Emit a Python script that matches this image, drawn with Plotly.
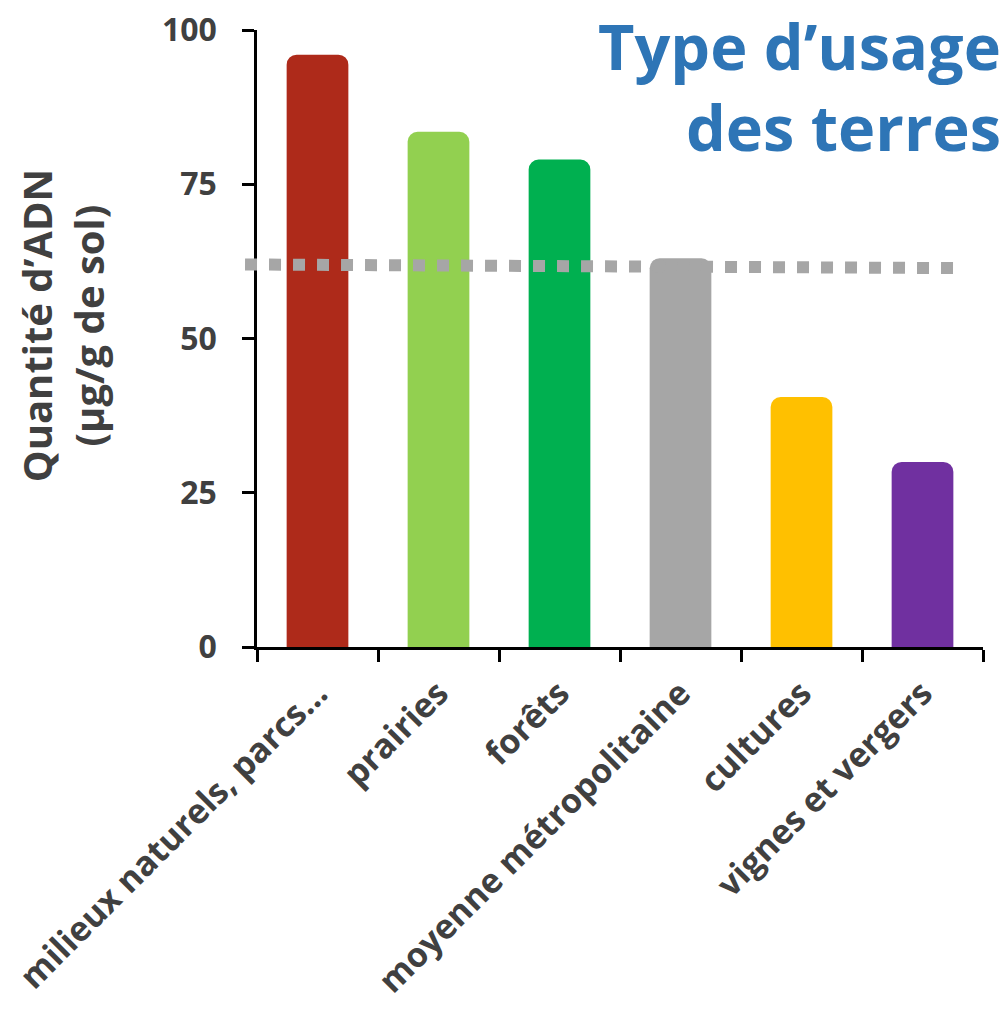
import plotly.graph_objects as go

categories = ["milieux naturels, parcs…", "prairies", "forêts", "moyenne métropolitaine", "cultures", "vignes et vergers"]
values = [96, 83.5, 79, 63, 40.5, 30]
colors = ["#ae2a1a", "#92d050", "#00b050", "#a6a6a6", "#ffc000", "#7030a0"]
y_ticks = [0, 25, 50, 75, 100]
moyenne_start = 62.0
moyenne_end = 61.4

FONT = "Open Sans"
GREY = "#404040"

fig = go.Figure()
fig.add_trace(go.Bar(
    x=categories, y=values,
    marker=dict(color=colors, line=dict(width=0), cornerradius=10),
    showlegend=False,
))

fig.add_shape(type="line", xref="paper", yref="y",
              x0=-0.0165, x1=0.972, y0=moyenne_start, y1=moyenne_end,
              line=dict(color="#a6a6a6", width=12, dash="dot"))

fig.update_layout(
    width=1007, height=1015,
    margin=dict(l=257, r=24, t=30, b=368),
    paper_bgcolor="white", plot_bgcolor="white",
    bargap=0.49,
    font=dict(family=FONT, color=GREY),
    xaxis=dict(
        type="category", tickson="boundaries",
        showline=True, linecolor="black", linewidth=2.5,
        ticks="outside", ticklen=12, tickwidth=2.5, tickcolor="black",
        tickangle=-45, ticklabelstandoff=10,
        tickfont=dict(family=FONT, size=34, color=GREY, weight="bold"),
        showgrid=False, zeroline=False, automargin=False,
    ),
    yaxis=dict(
        range=[0, 100], tickvals=y_ticks,
        showline=True, linecolor="black", linewidth=2.5,
        ticks="outside", ticklen=12, tickwidth=2.5, tickcolor="black",
        tickfont=dict(family=FONT, size=32, color=GREY, weight="bold"),
        ticklabelstandoff=19,
        showgrid=False, zeroline=False, automargin=False,
    ),
    annotations=[
        dict(text="Quantité d’ADN<br>(µg/g de sol)", textangle=-90,
             xref="paper", yref="paper", x=-0.345, y=0.52,
             xanchor="left", yanchor="middle", showarrow=False,
             font=dict(family=FONT, size=40, color=GREY, weight="bold")),
        dict(text="Type d’usage",
             xref="paper", yref="paper", x=1.027, y=1.0475,
             xanchor="right", yanchor="top", showarrow=False,
             font=dict(family=FONT, size=63, color="#2e75b6", weight="bold")),
        dict(text="des terres",
             xref="paper", yref="paper", x=1.027, y=0.843,
             xanchor="right", yanchor="middle", showarrow=False,
             font=dict(family=FONT, size=63, color="#2e75b6", weight="bold")),
    ],
)

fig.write_html("out.html")
